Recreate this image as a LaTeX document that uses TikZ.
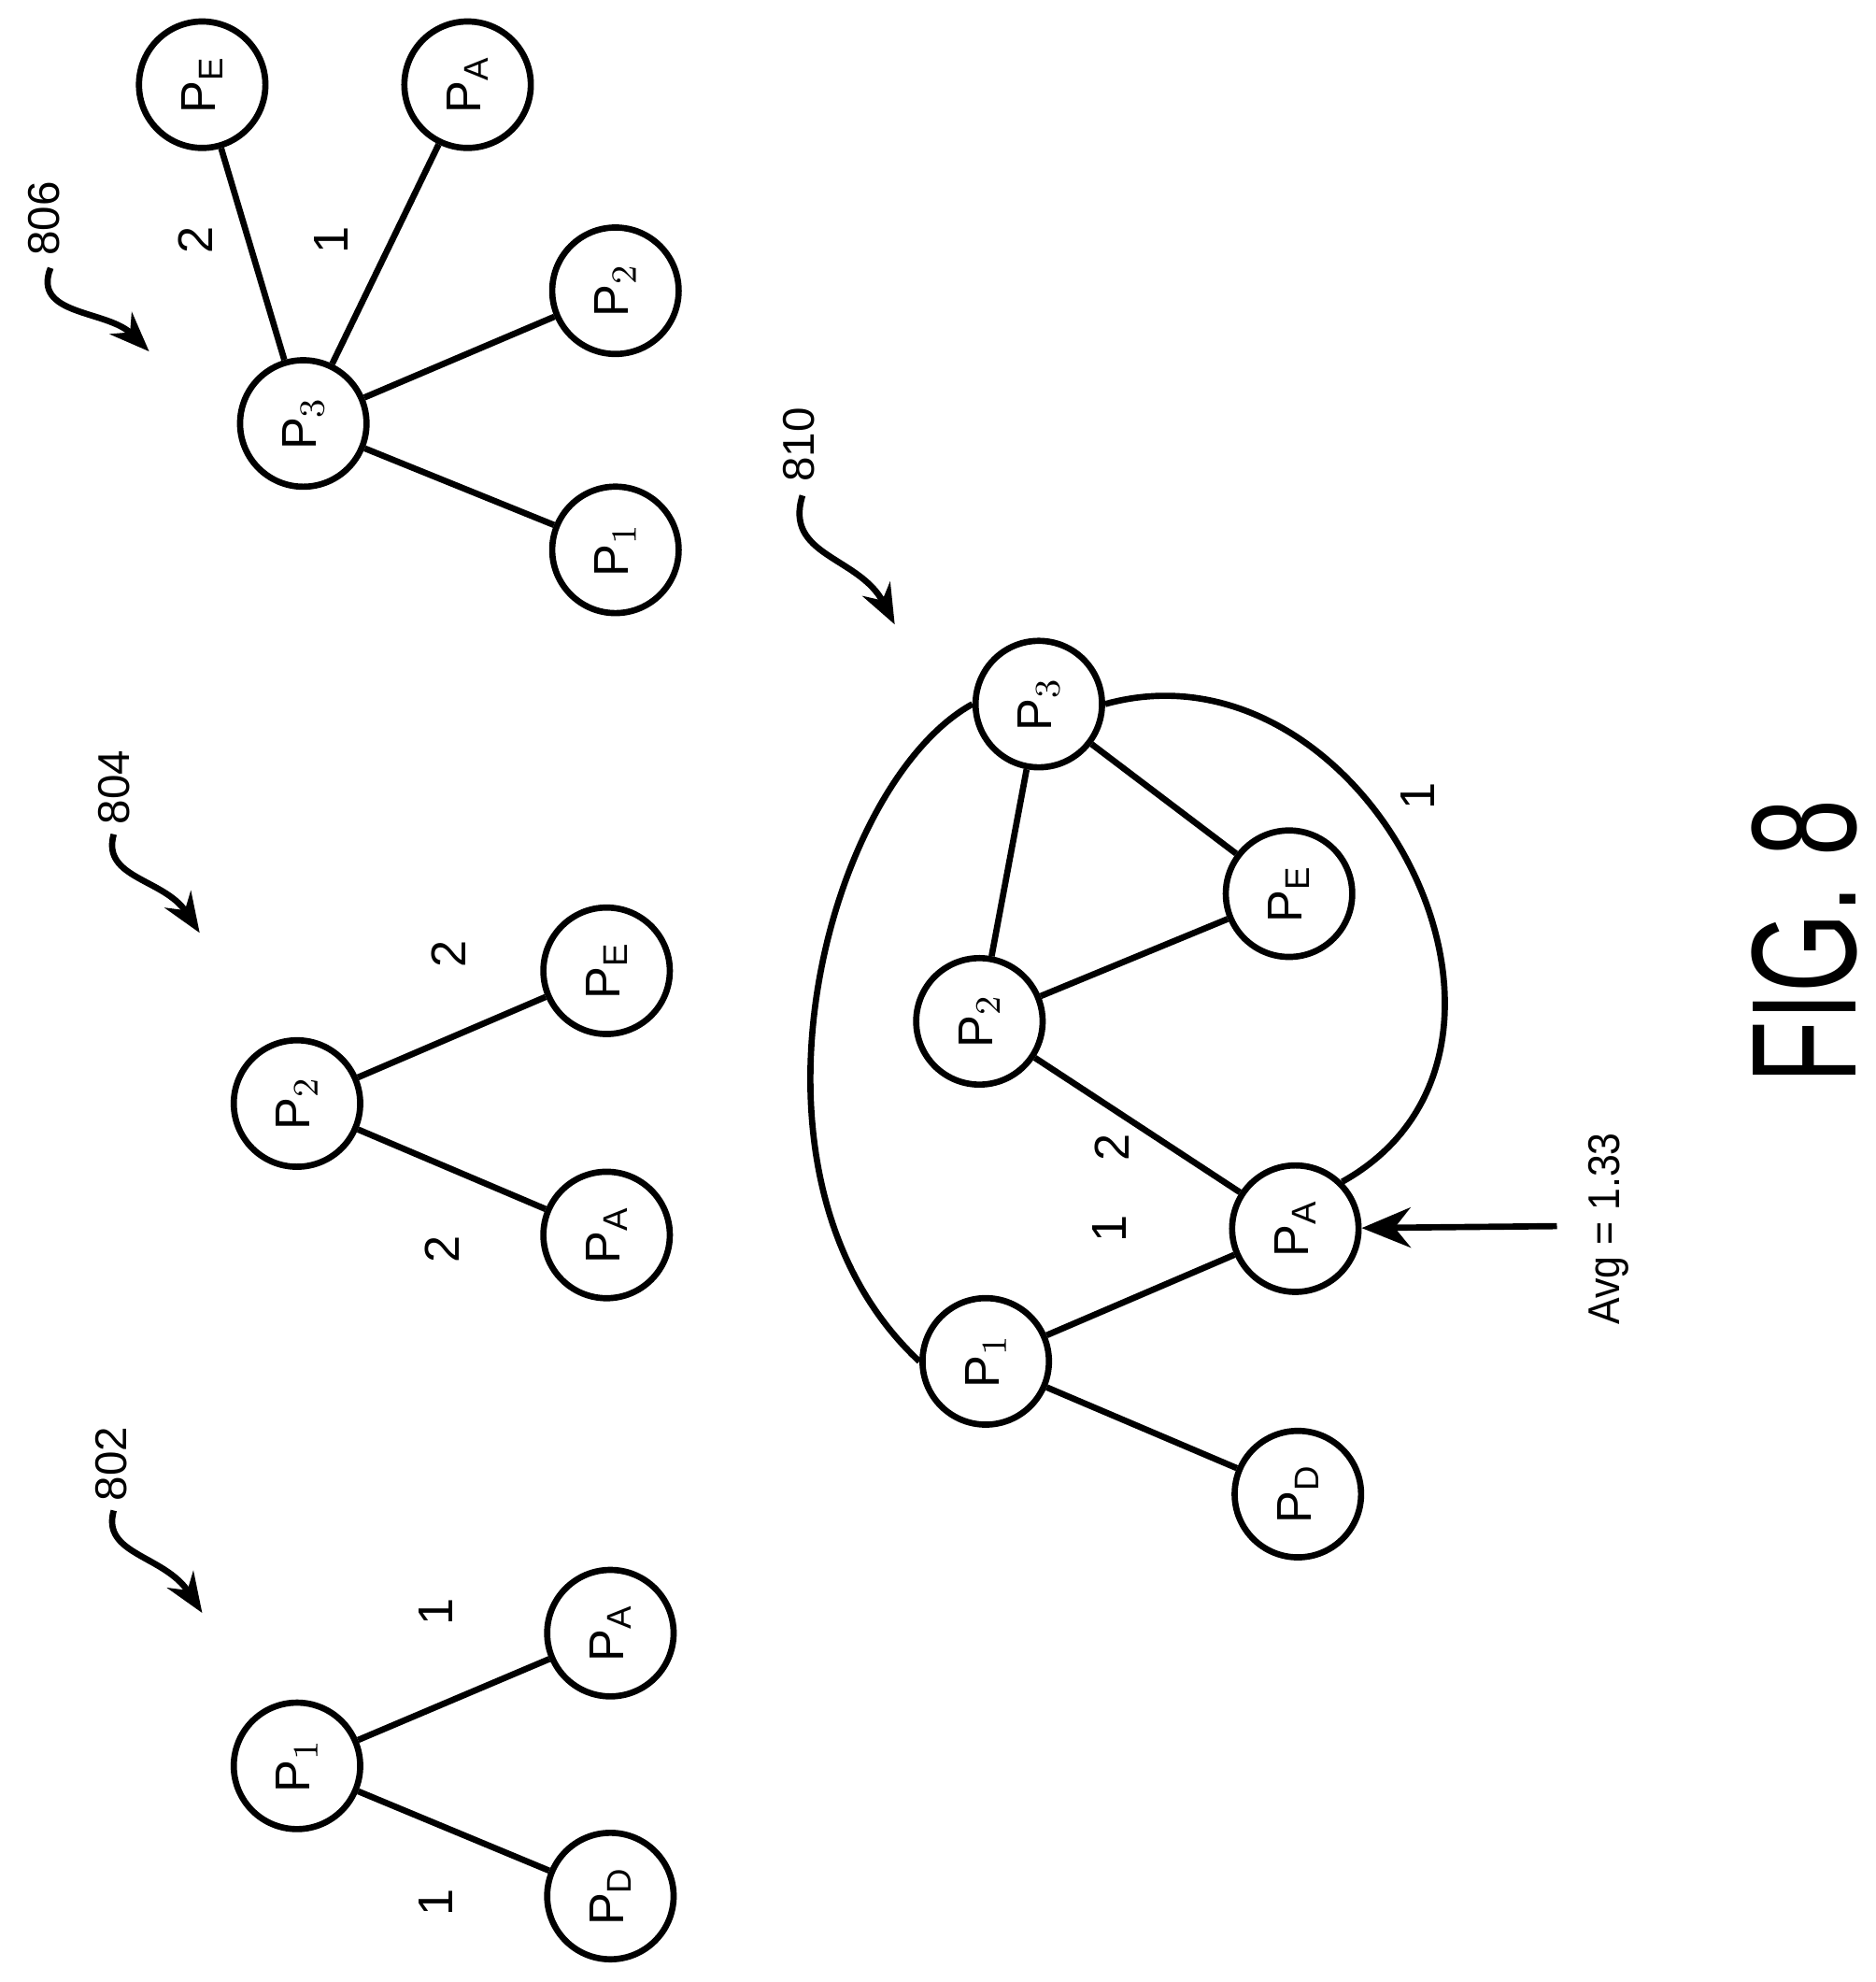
\documentclass[tikz,border=0pt]{standalone}
\usepackage{fontspec}
\setmainfont{Liberation Sans}
\usetikzlibrary{arrows.meta}
\begin{document}
\begin{tikzpicture}[x=0.01cm,y=-0.01cm,
  pn/.style={circle,draw,line width=1.4pt,minimum size=1.0cm,inner sep=0pt,rotate=90,font=\fontsize{11}{13}\selectfont},
  ed/.style={line width=1.4pt},
  lb/.style={rotate=90,font=\fontsize{11}{13}\selectfont},
  rf/.style={rotate=90,font=\fontsize{10}{12}\selectfont},
  sq/.style={line width=1.4pt,-{Stealth[length=9pt,width=7pt]}}]
\useasboundingbox (0,0) rectangle (1484,1568);
% 802
\node[pn] (a1) at (235,1397) {P$_1$};
\node[pn] (aD) at (483,1500) {P$_\mathrm{D}$};
\node[pn] (aA) at (483,1292) {P$_\mathrm{A}$};
\draw[ed] (a1)--(aD); \draw[ed] (a1)--(aA);
\node[lb] (l1) at (345,1505) {1};
\node[lb] (l2) at (345,1275) {1};
\node[rf] (r802) at (88,1158) {802};
\coordinate (t802) at (160,1276);
\draw[sq] (90,1195) .. controls (80,1230) and (130,1230) .. (t802);
% 804
\node[pn] (b2) at (235,873) {P$_2$};
\node[pn] (bA) at (480,977) {P$_\mathrm{A}$};
\node[pn] (bE) at (480,768) {P$_\mathrm{E}$};
\draw[ed] (b2)--(bA); \draw[ed] (b2)--(bE);
\node[lb] (l3) at (350,988) {2};
\node[lb] (l4) at (355,755) {2};
\node[rf] (r804) at (90,623) {804};
\coordinate (t804) at (158,738);
\draw[sq] (90,660) .. controls (80,695) and (130,695) .. (t804);
% 806
\node[pn] (c3) at (240,335) {P$_3$};
\node[pn] (c1) at (487,435) {P$_1$};
\node[pn] (c2) at (487,230) {P$_2$};
\node[pn] (cE) at (160,67) {P$_\mathrm{E}$};
\node[pn] (cA) at (370,67) {P$_\mathrm{A}$};
\draw[ed] (c3)--(c1); \draw[ed] (c3)--(c2); \draw[ed] (c3)--(cE); \draw[ed] (c3)--(cA);
\node[lb] (l5) at (155,190) {2};
\node[lb] (l6) at (262,190) {1};
\node[rf] (r806) at (35,173) {806};
\coordinate (t806) at (118,278);
\draw[sq] (40,212) .. controls (25,250) and (85,245) .. (t806);
% 810
\node[pn] (d3) at (822,557) {P$_3$};
\node[pn] (dE) at (1020,707) {P$_\mathrm{E}$};
\node[pn] (d2) at (775,808) {P$_2$};
\node[pn] (dA) at (1025,972) {P$_\mathrm{A}$};
\node[pn] (d1) at (780,1077) {P$_1$};
\node[pn] (dD) at (1027,1182) {P$_\mathrm{D}$};
\draw[ed] (d3)--(dE); \draw[ed] (d3)--(d2); \draw[ed] (d2)--(dE);
\draw[ed] (d2)--(dA); \draw[ed] (d1)--(dA); \draw[ed] (d1)--(dD);
\draw[ed] (d3.north) .. controls (655,620) and (570,930) .. (d1.north);
\draw[ed] (d3.south) .. controls (1080,500) and (1250,830) .. (dA.south east);
\node[lb] (l7) at (1122,630) {1};
\node[lb] (l8) at (880,908) {2};
\node[lb] (l9) at (878,972) {1};
\node[rf] (r810) at (632,352) {810};
\coordinate (t810) at (708,494);
\draw[sq] (635,392) .. controls (620,440) and (680,440) .. (t810);
\coordinate (s) at (1232,970);
\draw[ed,-{Stealth[length=11pt,width=9pt]}] (s) -- (dA);
\node[rf] (avg) at (1273,972) {\scalebox{0.9}[1]{Avg = 1.33}};
\node[rotate=90,font=\fontsize{28}{30}\selectfont] (fig) at (1428,745) {\scalebox{0.82}[1.2]{FIG. 8}};
\end{tikzpicture}
\end{document}
